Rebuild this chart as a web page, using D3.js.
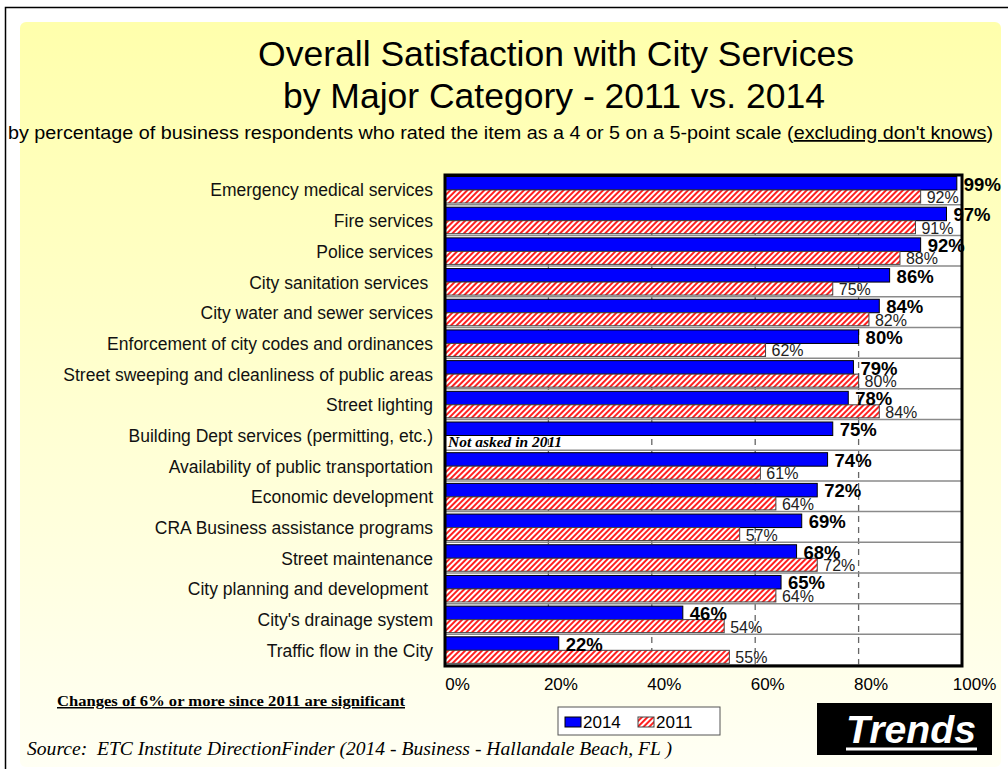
<!DOCTYPE html>
<html>
<head>
<meta charset="utf-8">
<script src="https://cdn.jsdelivr.net/npm/d3@7"></script>
<style>
  body { margin: 0; background: #fff; }
  svg { display: block; }
  text { font-family: Arial, "Liberation Sans", sans-serif; }
</style>
</head>
<body>
<svg id="chart" width="1008" height="769"></svg>
<script>
const categories = [
  "Emergency medical services",
  "Fire services",
  "Police services",
  "City sanitation services ",
  "City water and sewer services",
  "Enforcement of city codes and ordinances",
  "Street sweeping and cleanliness of public areas",
  "Street lighting",
  "Building Dept services (permitting, etc.)",
  "Availability of public transportation",
  "Economic development",
  "CRA Business assistance programs",
  "Street maintenance",
  "City planning and development ",
  "City's drainage system",
  "Traffic flow in the City"
]
const values2014 = [99, 97, 92, 86, 84, 80, 79, 78, 75, 74, 72, 69, 68, 65, 46, 22]
const values2011 = [92, 91, 88, 75, 82, 62, 80, 84, null, 61, 64, 57, 72, 64, 54, 55]
const xTicks = [0, 20, 40, 60, 80, 100]
const gridTicks = [20, 40, 60, 80]

var svg = d3.select("#chart")
var defs = svg.append("defs")

var grad = defs.append("linearGradient").attr("id", "bg").attr("x1", 0).attr("y1", 0).attr("x2", 0).attr("y2", 1)
grad.append("stop").attr("offset", "0%").attr("stop-color", "#ffffac")
grad.append("stop").attr("offset", "100%").attr("stop-color", "#fffff4")

var pat = defs.append("pattern").attr("id", "hatch").attr("patternUnits", "userSpaceOnUse")
  .attr("width", 4).attr("height", 4).attr("patternTransform", "rotate(45)")
pat.append("rect").attr("width", 4).attr("height", 4).attr("fill", "#fff")
pat.append("rect").attr("width", 2).attr("height", 4).attr("fill", "#ff2020")

// frame + background
svg.append("rect").attr("x", 5.5).attr("y", 7.5).attr("width", 1020).attr("height", 800)
  .attr("fill", "#fff").attr("stroke", "#000").attr("stroke-width", 1.5)
svg.append("rect").attr("x", 20).attr("y", 22).attr("width", 981).attr("height", 745).attr("rx", 6)
  .attr("fill", "url(#bg)")

// titles
svg.append("text").attr("x", 556).attr("y", 66).attr("text-anchor", "middle")
  .style("font-size", "35.5px").text("Overall Satisfaction with City Services")
svg.append("text").attr("x", 554).attr("y", 108).attr("text-anchor", "middle")
  .style("font-size", "35.5px").text("by Major Category - 2011 vs. 2014")
var sub = svg.append("text").attr("x", 8).attr("y", 139)
  .attr("textLength", 985).attr("lengthAdjust", "spacingAndGlyphs")
  .style("font-size", "17.5px")
sub.append("tspan").text("by percentage of business respondents who rated the item as a 4 or 5 on a 5-point scale (")
sub.append("tspan").style("text-decoration", "underline").text("excluding don't knows")
sub.append("tspan").text(")")

var margin = {top: 175, left: 445, right: 962, bottom: 666}

var x = d3.scaleLinear().domain([0, 100]).range([margin.left, margin.right])
var y = d3.scaleBand().domain(categories).range([margin.top, margin.bottom])
var bw = y.bandwidth()

svg.append("rect").attr("x", margin.left).attr("y", margin.top)
  .attr("width", margin.right - margin.left).attr("height", margin.bottom - margin.top).attr("fill", "#fff")

// grid
svg.append("g").selectAll("line").data(gridTicks).join("line")
  .attr("x1", d => x(d)).attr("x2", d => x(d))
  .attr("y1", margin.top).attr("y2", margin.bottom)
  .attr("stroke", "#666").attr("stroke-width", 1.3).attr("stroke-dasharray", "6,5")

svg.append("g").selectAll("line").data(categories).join("line")
  .attr("x1", margin.left).attr("x2", margin.right)
  .attr("y1", d => y(d) + bw - 1).attr("y2", d => y(d) + bw - 1)
  .attr("stroke", "#8a8a8a").attr("stroke-width", 1.5)

var rows = categories.map((c, i) => ({ c, v14: values2014[i], v11: values2011[i] }))

var g = svg.append("g")

g.selectAll(".b14").data(rows).join("rect").attr("class", "b14")
  .attr("x", x(0)).attr("y", d => y(d.c) + 1.5)
  .attr("width", d => x(d.v14) - x(0)).attr("height", 13.5)
  .attr("fill", "#0000ff").attr("stroke", "#000").attr("stroke-width", 1)

g.selectAll(".b11").data(rows.filter(d => d.v11 != null)).join("rect").attr("class", "b11")
  .attr("x", x(0)).attr("y", d => y(d.c) + 15)
  .attr("width", d => x(d.v11) - x(0)).attr("height", 13)
  .attr("fill", "url(#hatch)").attr("stroke", "#444").attr("stroke-width", 1)

// plot border
svg.append("rect").attr("x", margin.left).attr("y", margin.top)
  .attr("width", margin.right - margin.left).attr("height", margin.bottom - margin.top)
  .attr("fill", "none").attr("stroke", "#000").attr("stroke-width", 3)

// value labels
g.selectAll(".l11").data(rows.filter(d => d.v11 != null)).join("text").attr("class", "l11")
  .attr("x", d => x(d.v11) + 6).attr("y", d => y(d.c) + 28)
  .style("font-size", "16px").attr("fill", "#222").text(d => d.v11 + "%")

g.selectAll(".l14").data(rows).join("text").attr("class", "l14")
  .attr("x", d => x(d.v14) + 7).attr("y", d => y(d.c) + 15.5)
  .style("font-size", "18.5px").style("font-weight", "bold").text(d => d.v14 + "%")

var na = rows.find(d => d.v11 == null)
svg.append("text").attr("x", x(0) + 3).attr("y", y(na.c) + 26)
  .style("font-family", "'Times New Roman', 'Liberation Serif', serif")
  .style("font-size", "15.5px").style("font-weight", "bold").style("font-style", "italic")
  .text("Not asked in 2011")

// category labels
svg.append("g").selectAll("text").data(categories).join("text")
  .attr("x", 433).attr("y", d => y(d) + bw / 2).attr("dy", "0.35em")
  .attr("text-anchor", "end").attr("xml:space", "preserve")
  .style("font-size", "17.5px").style("white-space", "pre").attr("fill", "#111")
  .text(d => d)

// x axis
var ax = svg.append("g").attr("transform", "translate(0," + margin.bottom + ")")
  .call(d3.axisBottom(x).tickValues(xTicks).tickFormat(d => d + "%").tickSize(0).tickPadding(12))
ax.select(".domain").remove()
ax.selectAll("text").attr("dx", 12).style("font-size", "17px")
  .style("font-family", "Arial, 'Liberation Sans', sans-serif").attr("fill", "#000")

// notes
svg.append("text").attr("x", 57).attr("y", 706)
  .attr("textLength", 348).attr("lengthAdjust", "spacingAndGlyphs")
  .style("font-family", "'Times New Roman', 'Liberation Serif', serif")
  .style("font-size", "15px").style("font-weight", "bold").style("text-decoration", "underline")
  .text("Changes of 6% or more since 2011 are significant")

svg.append("text").attr("x", 27).attr("y", 755)
  .attr("textLength", 645).attr("lengthAdjust", "spacingAndGlyphs")
  .style("font-family", "'Times New Roman', 'Liberation Serif', serif")
  .style("font-size", "18px").style("font-style", "italic")
  .attr("xml:space", "preserve").style("white-space", "pre")
  .text("Source:  ETC Institute DirectionFinder (2014 - Business - Hallandale Beach, FL )")

// legend
var lg = svg.append("g")
lg.append("rect").attr("x", 558).attr("y", 707).attr("width", 162).attr("height", 28)
  .attr("fill", "#fff").attr("stroke", "#555").attr("stroke-width", 1)
lg.append("rect").attr("x", 565).attr("y", 717).attr("width", 16).attr("height", 10)
  .attr("fill", "#0000ff").attr("stroke", "#000")
lg.append("text").attr("x", 583).attr("y", 728).style("font-size", "17px").text("2014")
lg.append("rect").attr("x", 638).attr("y", 717).attr("width", 16).attr("height", 10)
  .attr("fill", "url(#hatch)").attr("stroke", "#444")
lg.append("text").attr("x", 656).attr("y", 728).style("font-size", "17px").text("2011")

// trends badge
svg.append("rect").attr("x", 817).attr("y", 703).attr("width", 175).attr("height", 52).attr("fill", "#000")
svg.append("text").attr("x", 911).attr("y", 743).attr("text-anchor", "middle")
  .attr("textLength", 130).attr("lengthAdjust", "spacingAndGlyphs")
  .style("font-size", "38px").style("font-weight", "bold").style("font-style", "italic")
  .attr("fill", "#fff").text("Trends")
svg.append("line").attr("x1", 846).attr("x2", 977).attr("y1", 749).attr("y2", 749)
  .attr("stroke", "#fff").attr("stroke-width", 3)
</script>
</body>
</html>
